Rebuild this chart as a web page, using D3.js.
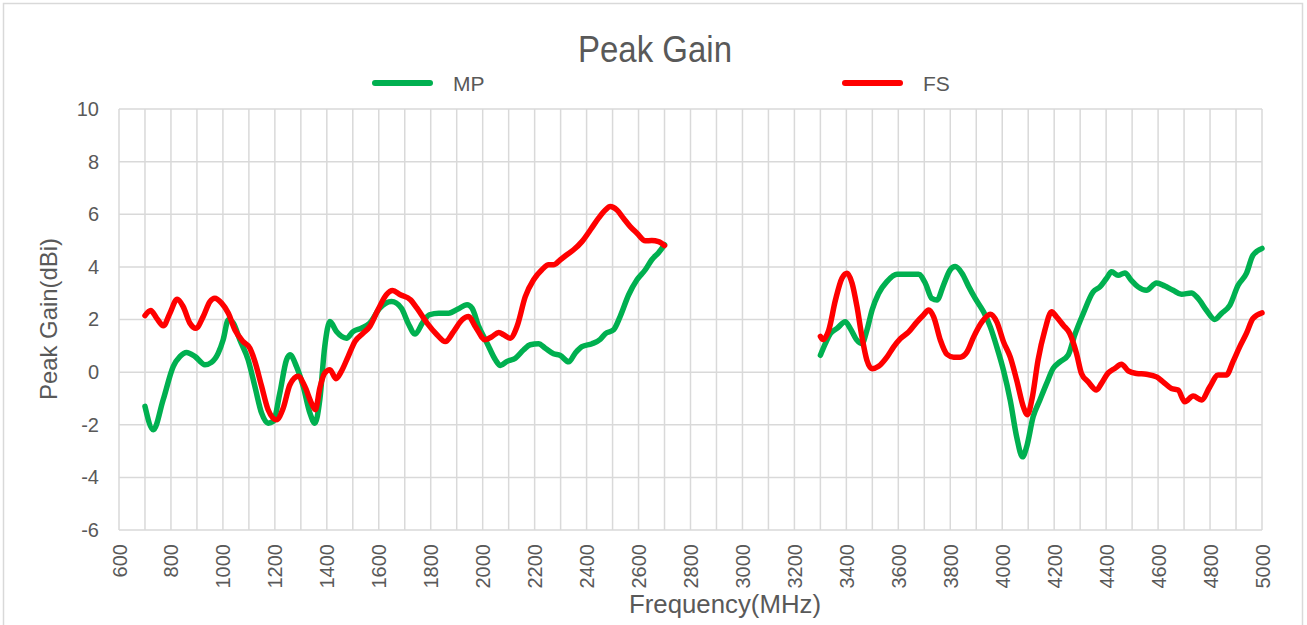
<!DOCTYPE html>
<html>
<head>
<meta charset="utf-8">
<script src="https://cdn.jsdelivr.net/npm/d3@7"></script>
<style>
  body { margin: 0; background: #fff; }
  text { font-family: "Liberation Sans", Arial, sans-serif; fill: #595959; }
</style>
</head>
<body>
<div id="chart"></div>
<script>
// frequency (MHz) / peak gain (dBi), two bands
const mpFreq1 = [700, 732, 770, 809, 835, 860, 892, 931, 956, 982, 1001, 1021, 1040, 1065, 1097, 1123, 1149, 1174, 1194, 1219, 1245, 1258, 1283, 1309, 1335, 1354, 1373, 1392, 1412, 1437, 1476, 1501, 1533, 1565, 1604, 1649, 1687, 1713, 1740, 1770, 1795, 1831, 1869, 1905, 1940, 1959, 1985, 2017, 2049, 2068, 2094, 2126, 2158, 2183, 2215, 2241, 2273, 2299, 2331, 2356, 2382, 2421, 2453, 2472, 2504, 2529, 2562, 2594, 2626, 2651, 2677, 2700];
const mpGain1 = [-1.3, -2.19, -1.05, 0.22, 0.6, 0.75, 0.6, 0.28, 0.37, 0.72, 1.23, 1.99, 1.86, 1.23, 0.47, -0.54, -1.56, -1.94, -1.87, -0.8, 0.47, 0.66, 0.22, -0.54, -1.56, -1.94, -1.05, 0.97, 1.92, 1.54, 1.29, 1.54, 1.67, 1.86, 2.43, 2.68, 2.43, 1.86, 1.45, 1.9, 2.18, 2.24, 2.24, 2.4, 2.56, 2.43, 1.73, 1.1, 0.47, 0.25, 0.41, 0.53, 0.85, 1.04, 1.08, 0.91, 0.7, 0.63, 0.39, 0.72, 0.97, 1.08, 1.25, 1.46, 1.61, 2.11, 2.94, 3.51, 3.89, 4.27, 4.54, 4.84];

const mpFreq2 = [3300, 3319, 3338, 3364, 3396, 3415, 3441, 3460, 3479, 3499, 3524, 3556, 3595, 3633, 3678, 3704, 3729, 3749, 3774, 3800, 3819, 3845, 3871, 3896, 3928, 3954, 3979, 4005, 4031, 4056, 4078, 4094, 4119, 4145, 4171, 4196, 4222, 4254, 4279, 4312, 4350, 4376, 4401, 4421, 4446, 4472, 4497, 4523, 4555, 4594, 4626, 4658, 4690, 4728, 4754, 4786, 4818, 4844, 4876, 4908, 4940, 4965, 5000];
const mpGain2 = [0.64, 1.08, 1.46, 1.66, 1.91, 1.66, 1.21, 1.08, 1.59, 2.36, 2.99, 3.44, 3.72, 3.72, 3.72, 3.38, 2.8, 2.74, 3.31, 3.89, 4.01, 3.76, 3.25, 2.8, 2.29, 1.72, 0.96, 0.06, -1.08, -2.48, -3.22, -2.84, -1.7, -1.06, -0.43, 0.14, 0.39, 0.65, 1.41, 2.23, 3.05, 3.24, 3.56, 3.81, 3.68, 3.77, 3.49, 3.24, 3.11, 3.39, 3.27, 3.11, 2.96, 3.01, 2.8, 2.35, 2.0, 2.23, 2.54, 3.3, 3.75, 4.44, 4.7];

const fsFreq1 = [700, 722, 745, 771, 796, 824, 847, 873, 896, 924, 950, 969, 995, 1021, 1046, 1078, 1104, 1123, 1149, 1174, 1206, 1232, 1258, 1290, 1315, 1341, 1356, 1373, 1392, 1412, 1435, 1456, 1482, 1508, 1540, 1565, 1597, 1629, 1653, 1683, 1722, 1747, 1786, 1824, 1856, 1888, 1921, 1946, 1972, 2010, 2036, 2062, 2081, 2106, 2132, 2164, 2196, 2228, 2254, 2273, 2299, 2324, 2350, 2382, 2415, 2446, 2472, 2491, 2517, 2542, 2568, 2594, 2626, 2651, 2677, 2700];
const fsGain1 = [2.15, 2.34, 2.05, 1.76, 2.24, 2.77, 2.49, 1.86, 1.67, 2.11, 2.68, 2.81, 2.62, 2.24, 1.61, 1.16, 0.91, 0.41, -0.54, -1.43, -1.81, -1.37, -0.48, -0.16, -0.54, -1.18, -1.43, -0.61, -0.04, 0.09, -0.25, 0.03, 0.59, 1.16, 1.48, 1.73, 2.37, 2.94, 3.1, 2.94, 2.75, 2.43, 1.86, 1.42, 1.16, 1.54, 1.99, 2.11, 1.73, 1.23, 1.35, 1.51, 1.42, 1.29, 1.73, 2.87, 3.51, 3.89, 4.08, 4.08, 4.27, 4.46, 4.65, 4.96, 5.41, 5.85, 6.16, 6.29, 6.16, 5.85, 5.53, 5.28, 4.99, 5.0, 4.96, 4.81];

const fsFreq2 = [3300, 3310, 3332, 3358, 3383, 3403, 3422, 3441, 3460, 3479, 3499, 3524, 3556, 3582, 3608, 3640, 3672, 3697, 3717, 3736, 3762, 3787, 3813, 3838, 3864, 3890, 3922, 3954, 3979, 4005, 4031, 4056, 4082, 4097, 4115, 4138, 4164, 4190, 4209, 4235, 4260, 4286, 4305, 4331, 4363, 4382, 4408, 4433, 4459, 4485, 4517, 4555, 4594, 4619, 4651, 4677, 4703, 4735, 4767, 4799, 4831, 4863, 4888, 4914, 4940, 4965, 5000];
const fsGain2 = [1.36, 1.24, 1.59, 2.74, 3.57, 3.76, 3.38, 2.48, 1.34, 0.45, 0.13, 0.22, 0.57, 0.96, 1.27, 1.53, 1.91, 2.17, 2.36, 2.1, 1.21, 0.68, 0.57, 0.57, 0.76, 1.34, 1.91, 2.2, 1.91, 1.15, 0.57, -0.32, -1.34, -1.62, -1.0, 0.46, 1.59, 2.29, 2.1, 1.78, 1.47, 0.71, -0.05, -0.37, -0.68, -0.43, -0.03, 0.14, 0.3, 0.05, -0.05, -0.08, -0.18, -0.37, -0.62, -0.68, -1.13, -0.91, -1.06, -0.56, -0.11, -0.11, 0.39, 0.96, 1.47, 2.04, 2.25];

const xTicks = d3.range(600, 5001, 200);
const xGrid = d3.range(600, 5001, 100);
const yTicks = d3.range(-6, 10.1, 2);

const seriesNames = ["MP", "FS"];
const seriesColors = ["#00B050", "#FF0000"];

const width = 1307, height = 625;
const margin = {top: 109, right: 45, bottom: 95, left: 119};

const svg = d3.select("#chart").append("svg")
    .attr("width", width)
    .attr("height", height);

// outer chart border
svg.append("rect")
    .attr("x", 3.5).attr("y", 3.5)
    .attr("width", 1299).attr("height", 640)
    .attr("fill", "none")
    .attr("stroke", "#d9d9d9")
    .attr("stroke-width", 1.5);

const x = d3.scaleLinear().domain([600, 5000]).range([margin.left, width - margin.right]);
const y = d3.scaleLinear().domain([-6, 10]).range([height - margin.bottom, margin.top]);

// grid
svg.append("g")
  .selectAll("line")
  .data(xGrid)
  .join("line")
    .attr("x1", d => x(d)).attr("x2", d => x(d))
    .attr("y1", y(10)).attr("y2", y(-6))
    .attr("stroke", "#d9d9d9")
    .attr("stroke-width", 1.5);

svg.append("g")
  .selectAll("line")
  .data(yTicks)
  .join("line")
    .attr("x1", x(600)).attr("x2", x(5000))
    .attr("y1", d => y(d)).attr("y2", d => y(d))
    .attr("stroke", "#d9d9d9")
    .attr("stroke-width", 1.5);

// y axis labels (plain hyphen for negatives, like the original)
const yAxis = svg.append("g")
    .attr("transform", `translate(${x(600)},0)`)
    .call(d3.axisLeft(y).tickValues(yTicks).tickSize(0).tickPadding(20).tickFormat(d => String(d)));
yAxis.select(".domain").remove();
yAxis.selectAll("text")
    .style("font-size", "20px")
    .attr("fill", "#595959");

// x axis labels, rotated
const xAxis = svg.append("g")
    .attr("transform", `translate(0,${y(-6)})`)
    .call(d3.axisBottom(x).tickValues(xTicks).tickSize(0).tickFormat(d => String(d)));
xAxis.select(".domain").remove();
xAxis.selectAll("text")
    .style("font-size", "20px")
    .attr("fill", "#595959")
    .attr("text-anchor", "end")
    .attr("transform", "rotate(-90)")
    .attr("x", -14)
    .attr("y", 0)
    .attr("dy", "0.35em");

// titles
svg.append("text")
    .attr("x", 655).attr("y", 62)
    .attr("text-anchor", "middle")
    .attr("textLength", 154)
    .attr("lengthAdjust", "spacingAndGlyphs")
    .style("font-size", "36px")
    .text("Peak Gain");

svg.append("text")
    .attr("x", 725).attr("y", 613)
    .attr("text-anchor", "middle")
    .attr("textLength", 192)
    .attr("lengthAdjust", "spacingAndGlyphs")
    .style("font-size", "25px")
    .text("Frequency(MHz)");

svg.append("text")
    .attr("transform", "translate(57,319) rotate(-90)")
    .attr("text-anchor", "middle")
    .attr("textLength", 162)
    .attr("lengthAdjust", "spacingAndGlyphs")
    .style("font-size", "24px")
    .text("Peak Gain(dBi)");

// legend
const legendX = [375, 845];
seriesNames.forEach(function(name, i) {
  svg.append("line")
      .attr("x1", legendX[i]).attr("x2", legendX[i] + 55)
      .attr("y1", 83).attr("y2", 83)
      .attr("stroke", seriesColors[i])
      .attr("stroke-width", 6)
      .attr("stroke-linecap", "round");
  svg.append("text")
      .attr("x", legendX[i] + 78).attr("y", 91)
      .style("font-size", "21px")
      .text(name);
});

// curves
const line = d3.line()
    .x(d => x(d[0]))
    .y(d => y(d[1]))
    .curve(d3.curveMonotoneX);

const bands = [
  {color: seriesColors[0], f: mpFreq1, g: mpGain1},
  {color: seriesColors[0], f: mpFreq2, g: mpGain2},
  {color: seriesColors[1], f: fsFreq1, g: fsGain1},
  {color: seriesColors[1], f: fsFreq2, g: fsGain2}
];

svg.append("g")
  .selectAll("path")
  .data(bands)
  .join("path")
    .attr("d", d => line(d3.zip(d.f, d.g)))
    .attr("fill", "none")
    .attr("stroke", d => d.color)
    .attr("stroke-width", 5.5)
    .attr("stroke-linejoin", "round")
    .attr("stroke-linecap", "round");
</script>
</body>
</html>
